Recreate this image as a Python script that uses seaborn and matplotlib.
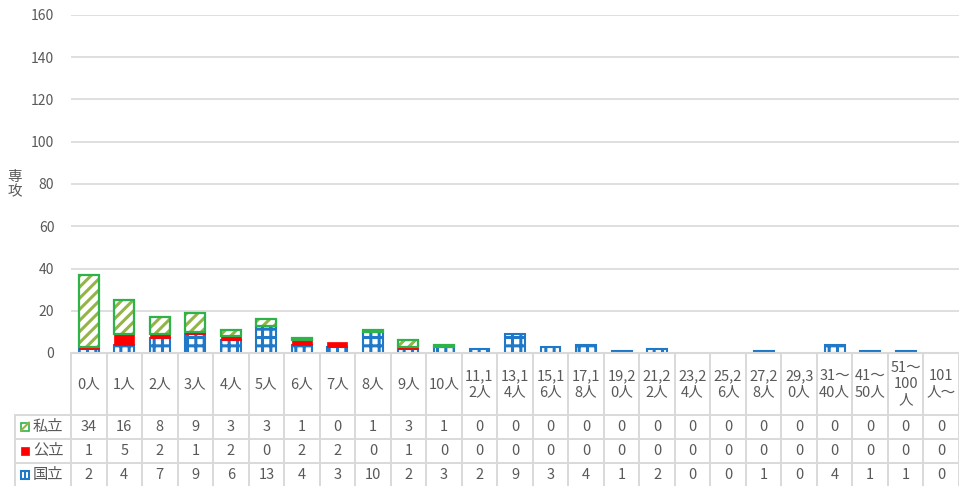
import matplotlib
matplotlib.use("Agg")
import matplotlib.pyplot as plt
import matplotlib.transforms as mtransforms
from matplotlib.lines import Line2D
from matplotlib.patches import Rectangle
import seaborn as sns
import numpy as np

categories = ["0人", "1人", "2人", "3人", "4人", "5人", "6人", "7人", "8人", "9人", "10人",
              "11,12人", "13,14人", "15,16人", "17,18人", "19,20人", "21,22人", "23,24人",
              "25,26人", "27,28人", "29,30人", "31〜40人", "41〜50人", "51〜100人", "101人〜"]
header_labels = ["0人", "1人", "2人", "3人", "4人", "5人", "6人", "7人", "8人", "9人", "10人",
                 "11,1\n2人", "13,1\n4人", "15,1\n6人", "17,1\n8人", "19,2\n0人", "21,2\n2人", "23,2\n4人",
                 "25,2\n6人", "27,2\n8人", "29,3\n0人", "31〜\n40人", "41〜\n50人", "51〜\n100\n人", "101\n人〜"]
private = [34, 16, 8, 9, 3, 3, 1, 0, 1, 3, 1, 0, 0, 0, 0, 0, 0, 0, 0, 0, 0, 0, 0, 0, 0]
public = [1, 5, 2, 1, 2, 0, 2, 2, 0, 1, 0, 0, 0, 0, 0, 0, 0, 0, 0, 0, 0, 0, 0, 0, 0]
national = [2, 4, 7, 9, 6, 13, 4, 3, 10, 2, 3, 2, 9, 3, 4, 1, 2, 0, 0, 1, 0, 4, 1, 1, 0]
series_names = ["私立", "公立", "国立"]
yticks = [0, 20, 40, 60, 80, 100, 120, 140, 160]

sns.set_style("white")
plt.rcParams['font.family'] = ['Noto Sans CJK JP', 'DejaVu Sans']
plt.rcParams['hatch.linewidth'] = 2.2

W, H = 959, 486
fig = plt.figure(figsize=(W / 100, H / 100), dpi=100)
ax = fig.add_axes([71 / W, 1 - 353 / H, 888 / W, (353 - 15) / H])

TXT = "#595959"
GRID = "#D9D9D9"
GREEN_EDGE = "#2DB34A"
GREEN_HATCH = "#94B447"
RED = "#FF0000"
BLUE = "#1F78C8"

nat = np.array(national)
pub = np.array(public)
pri = np.array(private)
bw = 0.56

def hide_zero(start):
    for p in ax.patches[start:]:
        if p.get_height() == 0:
            p.set_visible(False)

# national (bottom): white fill + blue grid hatch
k = len(ax.patches)
sns.barplot(x=categories, y=nat, ax=ax, color="white", edgecolor=BLUE, hatch="++",
            linewidth=1.5, width=bw, saturation=1, order=categories)
hide_zero(k)
# public (middle): solid red
k = len(ax.patches)
sns.barplot(x=categories, y=pub, bottom=nat, ax=ax, color=RED, edgecolor=RED,
            linewidth=0.5, width=bw, saturation=1, order=categories)
hide_zero(k)
# private (top): white with olive diagonal hatch, green edge
k = len(ax.patches)
sns.barplot(x=categories, y=pri, bottom=nat + pub, ax=ax, color="white", edgecolor=GREEN_HATCH,
            hatch="///", linewidth=0, width=bw, saturation=1, order=categories)
sns.barplot(x=categories, y=pri, bottom=nat + pub, ax=ax, color="white", fill=False,
            edgecolor=GREEN_EDGE, linewidth=1.6, width=bw, saturation=1, order=categories)
hide_zero(k)

ax.set_xlim(-0.5, len(categories) - 0.5)
ax.set_ylim(0, 160)
ax.set_yticks(yticks)
ax.set_yticklabels([str(v) for v in yticks], color=TXT, fontsize=10)
ax.tick_params(axis="y", length=0, pad=12)
ax.set_xticks([])
ax.set_xlabel("")
ax.set_ylabel("")
ax.grid(axis="y", color=GRID, linewidth=1.2)
ax.set_axisbelow(True)
for s in ["top", "right", "left"]:
    ax.spines[s].set_visible(False)
ax.spines["bottom"].set_color(GRID)
ax.spines["bottom"].set_linewidth(1.5)

fig.text(15 / W, 1 - 185 / H, "専\n攻", ha="center", va="center", color=TXT,
         fontsize=10.5, linespacing=1.1)

# data table
def fy(py):
    return 1 - py / H

def fx(px):
    return px / W

trans = mtransforms.blended_transform_factory(ax.transData, fig.transFigure)
n = len(categories)
lw = 1.4
for i in range(n + 1):
    xb = i - 0.5
    fig.add_artist(Line2D([xb, xb], [fy(353), fy(486)], transform=trans, color=GRID, lw=lw))
fig.add_artist(Line2D([fx(15), fx(15)], [fy(415), fy(486)], color=GRID, lw=lw))
for py in [415, 438.5, 462.5]:
    fig.add_artist(Line2D([fx(15), fx(959)], [fy(py), fy(py)], color=GRID, lw=lw))

row_y = [426.5, 450.5, 474.5]
rows = [private, public, national]
for i in range(n):
    ax.text(i, fy(384), header_labels[i], transform=trans, ha="center", va="center",
            color=TXT, fontsize=10.5, linespacing=1.2)
    for r, vals in enumerate(rows):
        ax.text(i, fy(row_y[r]), str(vals[i]), transform=trans, ha="center", va="center",
                color=TXT, fontsize=10.5)

for r, name in enumerate(series_names):
    fig.text(fx(48), fy(row_y[r]), name, ha="center", va="center", color=TXT, fontsize=11)
plt.rcParams['hatch.linewidth'] = 1.6
ks = 8
kx = 21
fig.add_artist(Rectangle((fx(kx), fy(row_y[0] + ks / 2)), ks / W, ks / H, facecolor="white",
                         edgecolor=GREEN_HATCH, linewidth=0, transform=fig.transFigure))
fig.add_artist(Line2D([fx(kx), fx(kx + ks)], [fy(row_y[0] + ks / 2), fy(row_y[0] - ks / 2)],
                      color=GREEN_HATCH, lw=1.5))
fig.add_artist(Rectangle((fx(kx), fy(row_y[0] + ks / 2)), ks / W, ks / H, fill=False,
                         edgecolor=GREEN_EDGE, linewidth=1.2, transform=fig.transFigure))
fig.add_artist(Rectangle((fx(kx), fy(row_y[1] + ks / 2)), ks / W, ks / H, facecolor=RED,
                         edgecolor=RED, linewidth=0.5, transform=fig.transFigure))
fig.add_artist(Rectangle((fx(kx), fy(row_y[2] + ks / 2)), ks / W, ks / H, facecolor="white",
                         edgecolor=BLUE, linewidth=1.5, transform=fig.transFigure))
fig.add_artist(Line2D([fx(kx + ks / 2), fx(kx + ks / 2)], [fy(row_y[2] + ks / 2), fy(row_y[2] - ks / 2)],
                      color=BLUE, lw=1.5))

fig.savefig("out.png", dpi=100)
